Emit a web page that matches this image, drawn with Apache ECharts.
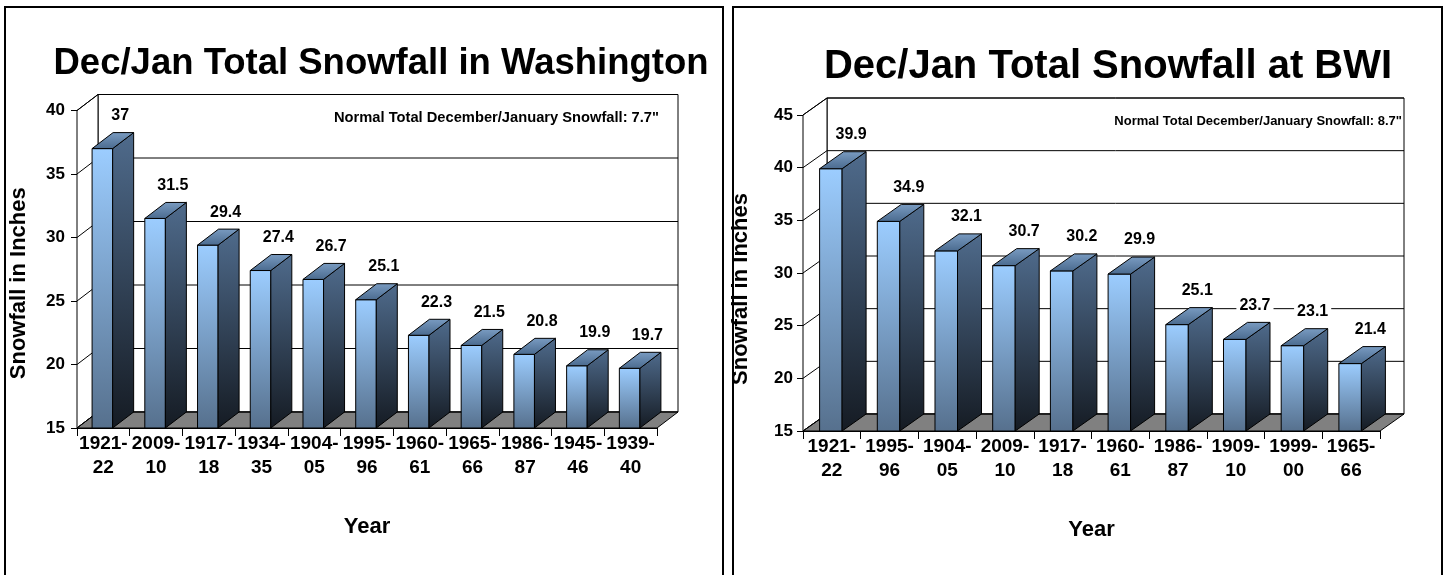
<!DOCTYPE html>
<html>
<head>
<meta charset="utf-8">
<script src="https://cdn.jsdelivr.net/npm/echarts@6/dist/echarts.min.js"></script>
<style>
  html, body { margin: 0; padding: 0; background: #fff; }
  #chart { width: 1447px; height: 575px; }
</style>
</head>
<body>
<div id="chart"></div>
<script>
  // Washington (left panel)
  const dcaYears = ['1921-22', '2009-10', '1917-18', '1934-35', '1904-05', '1995-96', '1960-61', '1965-66', '1986-87', '1945-46', '1939-40'];
  const dcaSnow = [37, 31.5, 29.4, 27.4, 26.7, 25.1, 22.3, 21.5, 20.8, 19.9, 19.7];
  const dcaTicks = [15, 20, 25, 30, 35, 40];

  // BWI (right panel)
  const bwiYears = ['1921-22', '1995-96', '1904-05', '2009-10', '1917-18', '1960-61', '1986-87', '1909-10', '1999-00', '1965-66'];
  const bwiSnow = [39.9, 34.9, 32.1, 30.7, 30.2, 29.9, 25.1, 23.7, 23.1, 21.4];
  const bwiTicks = [15, 20, 25, 30, 35, 40, 45];

  const FONT = '"Liberation Sans", Arial, sans-serif';

  /** 3D depth offset of the walls and bars, per panel */
  const depth = [{ dx: 21, dy: -16 }, { dx: 24, dy: -17 }];

  const grad = (a, b) => new echarts.graphic.LinearGradient(0, 0, 0, 1, [
    { offset: 0, color: a },
    { offset: 1, color: b },
  ]);

  /** back wall, left wall and floor */
  const renderWalls = d => (params, api) => {
    const cs = params.coordSys;
    const x0 = cs.x, x1 = cs.x + cs.width;
    const yt = cs.y, yb = cs.y + cs.height;
    const line = { stroke: '#000', lineWidth: 1 };
    return {
      type: 'group',
      children: [
        { type: 'rect', shape: { x: x0 + d.dx, y: yt + d.dy, width: cs.width, height: cs.height }, style: { fill: '#fff', ...line } },
        { type: 'polygon', shape: { points: [[x0, yt], [x0 + d.dx, yt + d.dy], [x0 + d.dx, yb + d.dy], [x0, yb]] }, style: { fill: '#fff', ...line } },
        { type: 'polygon', shape: { points: [[x0, yb], [x0 + d.dx, yb + d.dy], [x1 + d.dx, yb + d.dy], [x1, yb]] }, style: { fill: '#808080', ...line } },
      ],
    };
  };

  /** gridline: diagonal on the left wall, horizontal on the back wall */
  const renderGrid = d => (params, api) => {
    const cs = params.coordSys;
    const y = api.coord([0, api.value(1)])[1];
    return {
      type: 'polyline',
      shape: { points: [[cs.x, y], [cs.x + d.dx, y + d.dy], [cs.x + cs.width + d.dx, y + d.dy]] },
      style: { stroke: '#000', lineWidth: 1, fill: null },
    };
  };

  /** one 3D bar with its value label */
  const renderBar = (d, base) => (params, api) => {
    const idx = api.value(0), val = api.value(1);
    const top = api.coord([idx, val]);
    const bot = api.coord([idx, base]);
    const band = api.size([1, 0])[0];
    const bw = band * 0.39;
    const x = top[0] - bw / 2 - 1;
    const y0 = top[1], y1 = bot[1];
    const line = { stroke: '#000', lineWidth: 1 };
    return {
      type: 'group',
      children: [
        { type: 'rect', shape: { x: x, y: y0, width: bw, height: y1 - y0 }, style: { fill: grad('#9ccdff', '#56708d'), ...line } },
        { type: 'polygon', shape: { points: [[x + bw, y0], [x + bw + d.dx, y0 + d.dy], [x + bw + d.dx, y1 + d.dy], [x + bw, y1]] }, style: { fill: grad('#4f6b8c', '#151b23'), ...line } },
        { type: 'polygon', shape: { points: [[x, y0], [x + d.dx, y0 + d.dy], [x + bw + d.dx, y0 + d.dy], [x + bw, y0]] }, style: { fill: grad('#7a9cc2', '#4a6a8e'), ...line } },
        {
          type: 'text',
          style: {
            text: String(val), x: top[0] + d.dx * 0.8, y: y0 + d.dy - 17,
            align: 'center', verticalAlign: 'middle',
            font: 'bold 16px ' + FONT, fill: '#000',
            backgroundColor: '#fff', padding: [1, 3],
          },
        },
      ],
    };
  };

  const chart = echarts.init(document.getElementById('chart'));

  const bold = size => ({ fontFamily: FONT, fontWeight: 'bold', fontSize: size, color: '#000' });

  const xAxisFor = (gridIndex, data) => ({
    type: 'category',
    gridIndex,
    data,
    name: 'Year',
    nameLocation: 'middle',
    nameGap: 88,
    nameTextStyle: bold(22),
    axisLine: { show: true, lineStyle: { color: '#000', width: 1 } },
    axisTick: { show: true, length: 8, interval: 0, lineStyle: { color: '#000' } },
    axisLabel: {
      interval: 0, margin: 4, lineHeight: 24, ...bold(19),
      formatter: v => v.replace('-', '-\n'),
    },
  });

  const yAxisFor = (gridIndex, ticks, gap, margin, shift) => ({
    type: 'value',
    gridIndex,
    min: ticks[0],
    max: ticks[ticks.length - 1],
    interval: 5,
    name: 'Snowfall in Inches',
    nameLocation: 'middle',
    nameRotate: 90,
    nameGap: gap,
    nameTextStyle: { ...bold(22), padding: [0, shift, 0, 0] },
    axisLine: { show: true, lineStyle: { color: '#000', width: 1 } },
    axisTick: { show: true, length: 6, lineStyle: { color: '#000' } },
    axisLabel: { margin, ...bold(17), padding: [0, 0, 10, 0] },
    splitLine: { show: false },
  });

  const option = {
    animation: false,
    backgroundColor: '#fff',
    textStyle: { fontFamily: FONT },
    title: [
      { text: 'Dec/Jan Total Snowfall in Washington', left: 376, textAlign: 'center', top: 40, textStyle: bold(36.5) },
      { text: 'Dec/Jan Total Snowfall at BWI', left: 1103, textAlign: 'center', top: 42, textStyle: bold(40) },
      { text: 'Normal Total December/January Snowfall: 7.7"', right: 783, top: 105, textStyle: bold(14.7) },
      { text: 'Normal Total December/January Snowfall: 8.7"', right: 40, top: 110, textStyle: bold(13) },
    ],
    grid: [
      { left: 77, top: 110.5, width: 580, height: 317.5, outerBoundsMode: 'none' },
      { left: 803, top: 115, width: 577, height: 316, outerBoundsMode: 'none' },
    ],
    xAxis: [xAxisFor(0, dcaYears), xAxisFor(1, bwiYears)],
    yAxis: [yAxisFor(0, dcaTicks, 47, 12, 28), yAxisFor(1, bwiTicks, 51, 10, 32)],
    series: [
      { type: 'custom', xAxisIndex: 0, yAxisIndex: 0, renderItem: renderWalls(depth[0]), data: [[0, dcaTicks[0]]], silent: true },
      { type: 'custom', xAxisIndex: 0, yAxisIndex: 0, renderItem: renderGrid(depth[0]), data: dcaTicks.map(v => [0, v]), silent: true },
      { type: 'custom', xAxisIndex: 0, yAxisIndex: 0, renderItem: renderBar(depth[0], dcaTicks[0]), data: dcaSnow.map((v, i) => [i, v]) },
      { type: 'custom', xAxisIndex: 1, yAxisIndex: 1, renderItem: renderWalls(depth[1]), data: [[0, bwiTicks[0]]], silent: true },
      { type: 'custom', xAxisIndex: 1, yAxisIndex: 1, renderItem: renderGrid(depth[1]), data: bwiTicks.map(v => [0, v]), silent: true },
      { type: 'custom', xAxisIndex: 1, yAxisIndex: 1, renderItem: renderBar(depth[1], bwiTicks[0]), data: bwiSnow.map((v, i) => [i, v]) },
    ],
    graphic: [
      { type: 'rect', shape: { x: 5, y: 7, width: 718, height: 620 }, style: { fill: 'none', stroke: '#000', lineWidth: 2 } },
      { type: 'rect', shape: { x: 733, y: 7, width: 709, height: 620 }, style: { fill: 'none', stroke: '#000', lineWidth: 2 } },
    ],
  };

  chart.setOption(option);
</script>
</body>
</html>
